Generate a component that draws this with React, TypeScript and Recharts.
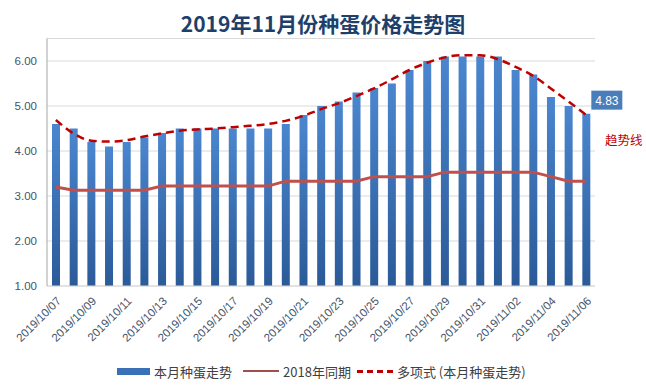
import React from "react";
import {
  ComposedChart,
  Bar,
  Line,
  XAxis,
  YAxis,
  CartesianGrid,
  LabelList,
} from "recharts";

const dates = [
  "2019/10/07", "2019/10/08", "2019/10/09", "2019/10/10", "2019/10/11", "2019/10/12",
  "2019/10/13", "2019/10/14", "2019/10/15", "2019/10/16", "2019/10/17", "2019/10/18",
  "2019/10/19", "2019/10/20", "2019/10/21", "2019/10/22", "2019/10/23", "2019/10/24",
  "2019/10/25", "2019/10/26", "2019/10/27", "2019/10/28", "2019/10/29", "2019/10/30",
  "2019/10/31", "2019/11/01", "2019/11/02", "2019/11/03", "2019/11/04", "2019/11/05",
  "2019/11/06",
];

const thisMonth = [
  4.6, 4.5, 4.2, 4.1, 4.2, 4.3, 4.4, 4.5, 4.5, 4.5, 4.5, 4.5, 4.5, 4.6, 4.8, 5.0,
  5.1, 5.3, 5.4, 5.5, 5.8, 6.0, 6.1, 6.1, 6.1, 6.1, 5.8, 5.7, 5.2, 5.0, 4.83,
];

const lastYear = [
  3.2, 3.13, 3.13, 3.13, 3.13, 3.13, 3.22, 3.22, 3.22, 3.22, 3.22, 3.22, 3.22, 3.33,
  3.33, 3.33, 3.33, 3.33, 3.43, 3.43, 3.43, 3.43, 3.53, 3.53, 3.53, 3.53, 3.53, 3.53,
  3.43, 3.33, 3.33,
];

const trend = [
  4.69, 4.39, 4.23, 4.21, 4.24, 4.32, 4.39, 4.45, 4.48, 4.5, 4.53, 4.56, 4.6, 4.67,
  4.78, 4.93, 5.06, 5.22, 5.39, 5.59, 5.8, 5.96, 6.08, 6.13, 6.13, 6.04, 5.87, 5.67,
  5.39, 5.1, 4.8,
];

const yTicks = [1, 2, 3, 4, 5, 6];

const data = dates.map((d, i) => ({
  date: d,
  cur: thisMonth[i],
  prev: lastYear[i],
  trend: trend[i],
}));

const FONT = '"Liberation Sans", "Noto Sans CJK SC", sans-serif';
const CJK = '"Noto Sans CJK SC", "Liberation Sans", sans-serif';

const XTick = (props: any) => {
  const { x, y, payload } = props;
  return (
    <g transform={`translate(${x + 3},${y + 11})`}>
      <text
        x={0}
        y={0}
        dy={4}
        textAnchor="end"
        transform="rotate(-45)"
        fontSize={11.5}
        fill="#44546a"
        fontFamily={FONT}
      >
        {payload.value}
      </text>
    </g>
  );
};

const LastLabel = (props: any) => {
  const { x, y, width, index, value } = props;
  if (index !== thisMonth.length - 1) return null;
  const bx = x + width / 2 + 5;
  const by = y - 23;
  return (
    <g>
      <rect x={bx} y={by} width={31} height={19} fill="#4a7ebb" />
      <text
        x={bx + 15.5}
        y={by + 14}
        textAnchor="middle"
        fontSize={12}
        fill="#ffffff"
        fontFamily={FONT}
      >
        {Number(value).toFixed(2)}
      </text>
    </g>
  );
};

export default function App() {
  return (
    <div
      style={{
        position: "absolute",
        left: 0,
        top: 0,
        width: 646,
        height: 390,
        background: "#ffffff",
        fontFamily: FONT,
      }}
    >
      <div
        style={{
          position: "absolute",
          left: 0,
          width: 646,
          top: 9,
          textAlign: "center",
          fontFamily: CJK,
          fontWeight: 700,
          fontSize: 21,
          color: "#1f3f6b",
          lineHeight: "28px",
        }}
      >
        2019年11月份种蛋价格走势图
      </div>
      <ComposedChart
        width={646}
        height={390}
        data={data}
        margin={{ top: 38.5, right: 51, left: 7, bottom: 34 }}
      >
        <defs>
          <linearGradient id="barGrad" x1="0" y1="0" x2="0" y2="1">
            <stop offset="0%" stopColor="#4a86cf" />
            <stop offset="100%" stopColor="#2b5a98" />
          </linearGradient>
        </defs>
        <CartesianGrid vertical={false} stroke="#d9d9d9" />
        <XAxis
          dataKey="date"
          interval={1}
          height={70}
          tickLine={false}
          tickSize={0}
          axisLine={{ stroke: "#d9d9d9" }}
          tick={<XTick />}
        />
        <YAxis
          domain={[1, 6.5]}
          ticks={yTicks}
          width={40}
          tickLine={false}
          tickSize={0}
          tickMargin={10}
          axisLine={{ stroke: "#a6a6a6" }}
          tickFormatter={(v: number) => v.toFixed(2)}
          tick={{ fontSize: 11.5, fill: "#44546a", fontFamily: FONT }}
        />
        <Bar
          dataKey="cur"
          barSize={8}
          fill="url(#barGrad)"
          isAnimationActive={false}
        >
          <LabelList dataKey="cur" content={<LastLabel />} />
        </Bar>
        <Line
          dataKey="prev"
          type="linear"
          stroke="#c0504d"
          strokeWidth={3}
          dot={false}
          isAnimationActive={false}
        />
        <Line
          dataKey="trend"
          type="monotone"
          stroke="#c00000"
          strokeWidth={2.5}
          strokeDasharray="8 5"
          dot={false}
          isAnimationActive={false}
        />
      </ComposedChart>
      <div
        style={{
          position: "absolute",
          left: 605,
          top: 131,
          fontFamily: CJK,
          fontSize: 12.5,
          color: "#c00000",
          lineHeight: "18px",
        }}
      >
        趋势线
      </div>
      <div
        style={{
          position: "absolute",
          left: 117,
          top: 362,
          height: 18,
          display: "flex",
          alignItems: "center",
          fontFamily: CJK,
          fontSize: 13,
          color: "#404040",
          whiteSpace: "nowrap",
        }}
      >
        <span style={{ display: "inline-block", width: 33, height: 7, background: "#3a70b6", marginRight: 4 }} />
        <span>本月种蛋走势</span>
        <span style={{ display: "inline-block", width: 36, height: 0, borderTop: "2px solid #a0504b", marginLeft: 11, marginRight: 4 }} />
        <span>2018年同期</span>
        <span style={{ display: "inline-block", width: 36, height: 0, borderTop: "3px dashed #c00000", marginLeft: 6, marginRight: 4 }} />
        <span>多项式 (本月种蛋走势)</span>
      </div>
    </div>
  );
}
